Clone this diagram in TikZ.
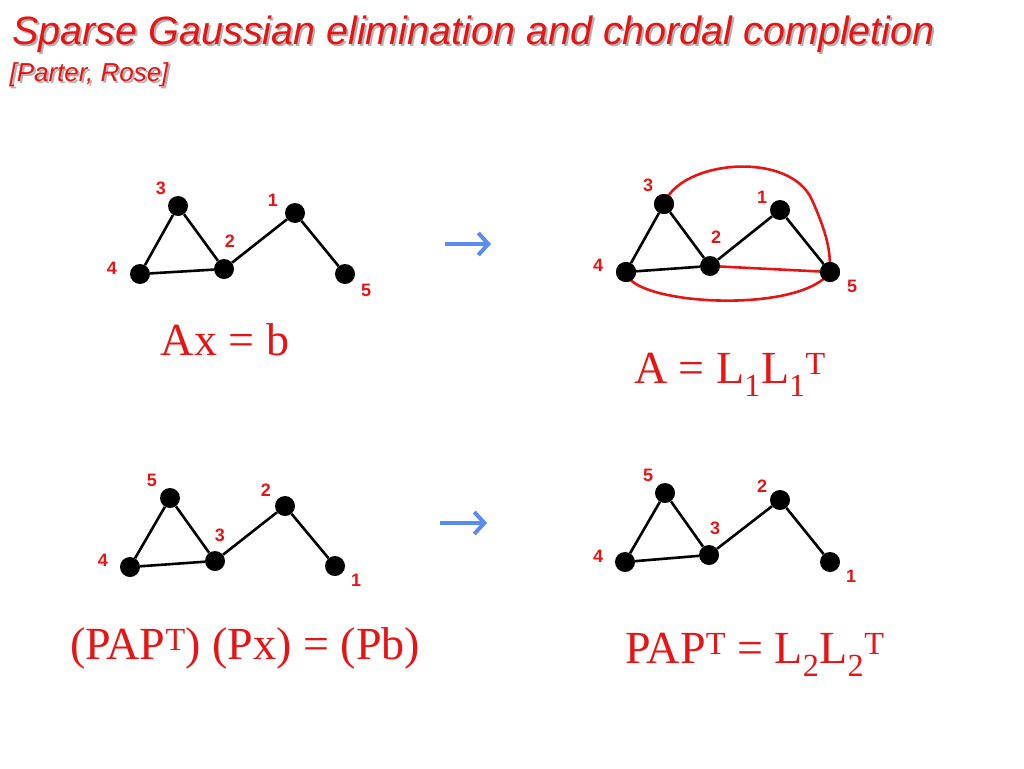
\documentclass[tikz,border=0pt]{standalone}
\usepackage{fontspec}
\setmainfont{Liberation Serif}
\setsansfont{Liberation Sans}
\usepackage{xcolor}
\usetikzlibrary{arrows.meta}
\definecolor{slred}{RGB}{230,20,20}
\definecolor{slblue}{RGB}{90,140,240}
\tikzset{
  vert/.style={circle,fill=black,inner sep=0pt,minimum size=20pt},
  vlab/.style={text=slred,font=\sffamily\bfseries\fontsize{18}{18}\selectfont},
  edge/.style={line width=2.6pt},
  filledge/.style={slred,line width=2.6pt},
  blarrow/.style={slblue,line width=4pt,-{Straight Barb[length=10pt,width=22pt]}},
  eqn/.style={text=slred,font=\fontsize{46}{46}\selectfont}
}
\begin{document}
\begin{tikzpicture}[x=1pt,y=1pt,yscale=-1]
\useasboundingbox (0,0) rectangle (1024,768);
% title
\node[anchor=west,text=gray!60,font=\sffamily\itshape\fontsize{39.5}{40}\selectfont] at (11,36) {Sparse Gaussian elimination and chordal completion};
\node[anchor=west,text=slred,font=\sffamily\itshape\fontsize{39.5}{40}\selectfont] (title) at (9,34) {Sparse Gaussian elimination and chordal completion};
\node[anchor=west,text=gray!60,font=\sffamily\itshape\fontsize{26}{26}\selectfont] at (8,77) {[Parter, Rose]};
\node[anchor=west,text=slred,font=\sffamily\itshape\fontsize{26}{26}\selectfont] (refs) at (6,75) {[Parter, Rose]};
% top left graph
\node[vert] (a3) at (178,206) {};
\node[vert] (a1) at (295,213) {};
\node[vert] (a2) at (224,269) {};
\node[vert] (a4) at (140,274) {};
\node[vert] (a5) at (345,274) {};
\node[vlab] at (161,188) {3};
\node[vlab] at (273,200) {1};
\node[vlab] at (230,241) {2};
\node[vlab] at (112,268) {4};
\node[vlab] at (366,290) {5};
\draw[edge] (a4) -- (a3) -- (a2) -- (a4);
\draw[edge] (a2) -- (a1) -- (a5);
% top right graph
\node[vert] (b3) at (664,204) {};
\node[vert] (b1) at (780,210) {};
\node[vert] (b2) at (710,266) {};
\node[vert] (b4) at (626,272) {};
\node[vert] (b5) at (830,272) {};
\node[vlab] at (648,185) {3};
\node[vlab] at (762,197) {1};
\node[vlab] at (716,237) {2};
\node[vlab] at (598,265) {4};
\node[vlab] at (852,286) {5};
\draw[edge] (b4) -- (b3) -- (b2) -- (b4);
\draw[edge] (b2) -- (b1) -- (b5);
\draw[filledge] (b2) -- (b5);
\draw[filledge] (b3.center) .. controls (680,160) and (790,150) .. (812,200) .. controls (830,240) and (830,255) .. (b5.center);
\draw[filledge] (b4.center) .. controls (630,305) and (800,315) .. (b5.center);
\node[vert] at (b3) {};
\node[vert] at (b4) {};
\node[vert] at (b5) {};
% arrows
\draw[blarrow] (445,244) -- (491,244);
\draw[blarrow] (440,523) -- (487,523);
% bottom left graph
\node[vert] (c5) at (170,498) {};
\node[vert] (c2) at (285,506) {};
\node[vert] (c3) at (215,561) {};
\node[vert] (c4) at (130,567) {};
\node[vert] (c1) at (335,566) {};
\node[vlab] at (152,480) {5};
\node[vlab] at (266,490) {2};
\node[vlab] at (220,535) {3};
\node[vlab] at (103,560) {4};
\node[vlab] at (356,580) {1};
\draw[edge] (c4) -- (c5) -- (c3) -- (c4);
\draw[edge] (c3) -- (c2) -- (c1);
% bottom right graph
\node[vert] (d5) at (665,493) {};
\node[vert] (d2) at (780,500) {};
\node[vert] (d3) at (709,555) {};
\node[vert] (d4) at (625,562) {};
\node[vert] (d1) at (830,562) {};
\node[vlab] at (648,475) {5};
\node[vlab] at (762,486) {2};
\node[vlab] at (715,528) {3};
\node[vlab] at (598,556) {4};
\node[vlab] at (851,576) {1};
\draw[edge] (d4) -- (d5) -- (d3) -- (d4);
\draw[edge] (d3) -- (d2) -- (d1);
% equations
\node[eqn] (eqa) at (225,340) {Ax = b};
\node[eqn] (eqb) at (730,375) {A = L\textsubscript{1}L\textsubscript{1}\textsuperscript{T}};
\node[eqn] (eqc) at (245,648) {(PAP\textsuperscript{T}) (Px) = (Pb)};
\node[eqn] (eqd) at (755,655) {PAP\textsuperscript{T} = L\textsubscript{2}L\textsubscript{2}\textsuperscript{T}};
\end{tikzpicture}
\end{document}
